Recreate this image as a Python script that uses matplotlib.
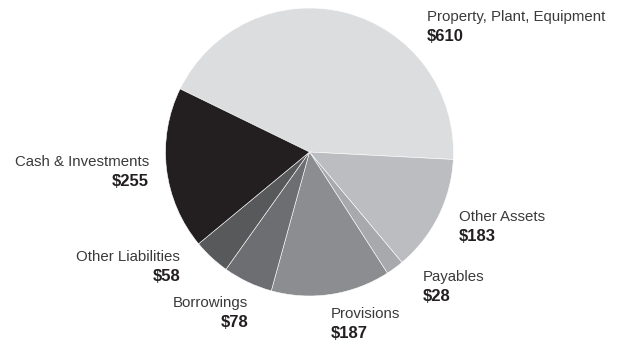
import matplotlib.pyplot as plt

# balance sheet breakdown, clockwise from Property
categories = ["Property, Plant, Equipment", "Other Assets", "Payables", "Provisions",
              "Borrowings", "Other Liabilities", "Cash & Investments"]
values = [610, 183, 28, 187, 78, 58, 255]
colors = ["#dcdddf", "#bcbdc0", "#a7a9ac", "#8c8d90", "#6d6e71", "#58595b", "#231f20"]

# label anchors in pixels (x, y of name line), alignment
label_pos = [(427, 17, "left"), (459, 217, "left"), (423, 277, "left"), (331, 314, "left"),
             (248, 303, "right"), (180, 257, "right"), (149, 162, "right")]

W, H = 624, 342
fig = plt.figure(figsize=(W / 100, H / 100), dpi=100)
plt.rcParams['font.family'] = ['Liberation Sans', 'DejaVu Sans']

cx, cy, r = 309.5, 152, 144
ax = fig.add_axes([(cx - r) / W, (H - cy - r) / H, 2 * r / W, 2 * r / H])
ax.pie(values, colors=colors, startangle=154, counterclock=False, radius=1,
       wedgeprops=dict(edgecolor="white", linewidth=0.4))
ax.set_xlim(-1, 1)
ax.set_ylim(-1, 1)
ax.set_aspect("equal")
ax.axis("off")

for name, val, (x, y, ha) in zip(categories, values, label_pos):
    fig.text(x / W, 1 - y / H, name, ha=ha, va="center", fontsize=10.8, color="#3a3a3c")
    fig.text(x / W, 1 - (y + 19.5) / H, "$%d" % val, ha=ha, va="center", fontsize=12,
             fontweight="bold", color="#231f20")

fig.savefig("out.png", dpi=100, facecolor="white")
